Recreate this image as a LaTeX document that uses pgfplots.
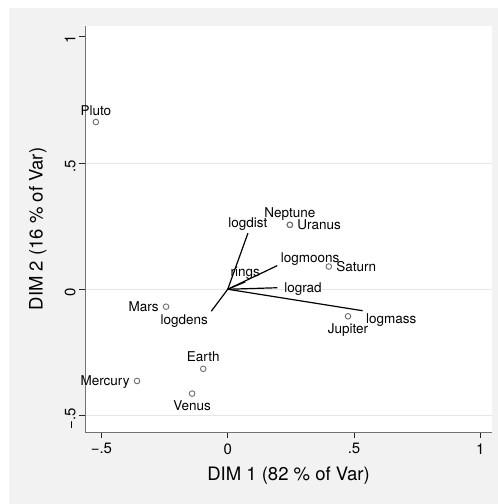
\documentclass[border=0pt]{standalone}
\usepackage{pgfplots}
\pgfplotsset{compat=1.18}
\usepackage{fontspec}
\setmainfont{TeX Gyre Heros}
\definecolor{bggray}{HTML}{F2F2F2}
\definecolor{gridgray}{HTML}{E6E6E6}
\definecolor{markgray}{HTML}{6E6E6E}

\pgfplotsset{
  lab/.style 2 args={point meta=explicit symbolic, nodes near coords,
    every node near coord/.append style={anchor=#1, inner sep=0pt, outer sep=#2,
      text height=9.7bp, text depth=0pt, font=\fontsize{13.5bp}{16bp}\selectfont, black}},
  obs/.style={only marks, mark=o, mark size=2.8bp, mark options={draw=markgray, line width=0.9bp}},
  var/.style={black, line width=1.2bp, mark=none},
  varlab/.style={draw=none, mark=none},
}

\begin{document}
\begin{tikzpicture}
\useasboundingbox (0,0) rectangle (498bp,504bp);
\fill[bggray] (9bp,0) rectangle (498bp,496bp);
\begin{axis}[
  at={(85bp,72bp)}, anchor=south west,
  scale only axis, width=407bp, height=406bp,
  xmin=-0.565, xmax=1.046, ymin=-0.565, ymax=1.042,
  axis x line*=bottom, axis y line*=left,
  axis line style={black!55, line width=1bp},
  axis background/.style={fill=white},
  tick align=outside, major tick length=6bp,
  tick style={black!85, line width=0.8bp},
  xtick={-0.5,0,0.5,1}, xticklabels={−.5,0,.5,1},
  ytick={-0.5,0,0.5}, yticklabels={−.5,0,.5},
  extra y ticks={1}, extra y tick labels={1},
  extra y tick style={grid=none},
  ymajorgrids, grid style={gridgray, line width=0.7bp},
  xticklabel style={font=\fontsize{15bp}{18bp}\selectfont, yshift=-2bp},
  yticklabel style={font=\fontsize{15bp}{18bp}\selectfont, rotate=90, anchor=south, xshift=-3bp},
  xlabel={DIM 1 (82 \% of Var)}, ylabel={DIM 2 (16 \% of Var)},
  label style={font=\fontsize{18.5bp}{22bp}\selectfont},
  xlabel style={at={(axis description cs:0.5,-0.108)}, anchor=center},
  ylabel style={at={(axis description cs:-0.116,0.5)}, anchor=center},
  clip=false,
]
% variable lines
\addplot[var] coordinates {(0,0) (0.080,0.222)};
\addplot[var] coordinates {(0,0) (0.196,0.0935)};
\addplot[var] coordinates {(0,0) (0.196,0.006)};
\addplot[var] coordinates {(0,0) (0.534,-0.085)};
\addplot[var] coordinates {(0,0) (-0.065,-0.087)};
\addplot[var] coordinates {(0,0) (0.069,0.029)};
% variable labels
\addplot[varlab, lab={south}{6bp}] coordinates {(0.080,0.222) [logdist]};
\addplot[varlab, lab={south}{5bp}] coordinates {(0.069,0.029) [rings]};
\addplot[varlab, lab={south west}{3.5bp}] coordinates {(0.196,0.0935) [logmoons]};
\addplot[varlab, lab={west}{7bp}] coordinates {(0.196,0.006) [lograd]};
\addplot[varlab, lab={north west}{3.5bp}] coordinates {(0.534,-0.085) [logmass]};
\addplot[varlab, lab={north east}{3.5bp}] coordinates {(-0.065,-0.087) [logdens]};
% observations
\addplot[obs, lab={south}{7bp}] coordinates {(-0.522,0.662) [Pluto] (0.246,0.255) [Neptune] (-0.097,-0.315) [Earth]};
\addplot[obs, lab={west}{7.5bp}] coordinates {(0.246,0.255) [Uranus] (0.400,0.090) [Saturn]};
\addplot[obs, lab={north}{7.5bp}] coordinates {(0.476,-0.107) [Jupiter] (-0.141,-0.413) [Venus]};
\addplot[obs, lab={east}{7.5bp}] coordinates {(-0.244,-0.069) [Mars] (-0.359,-0.363) [Mercury]};
\end{axis}
\end{tikzpicture}
\end{document}
